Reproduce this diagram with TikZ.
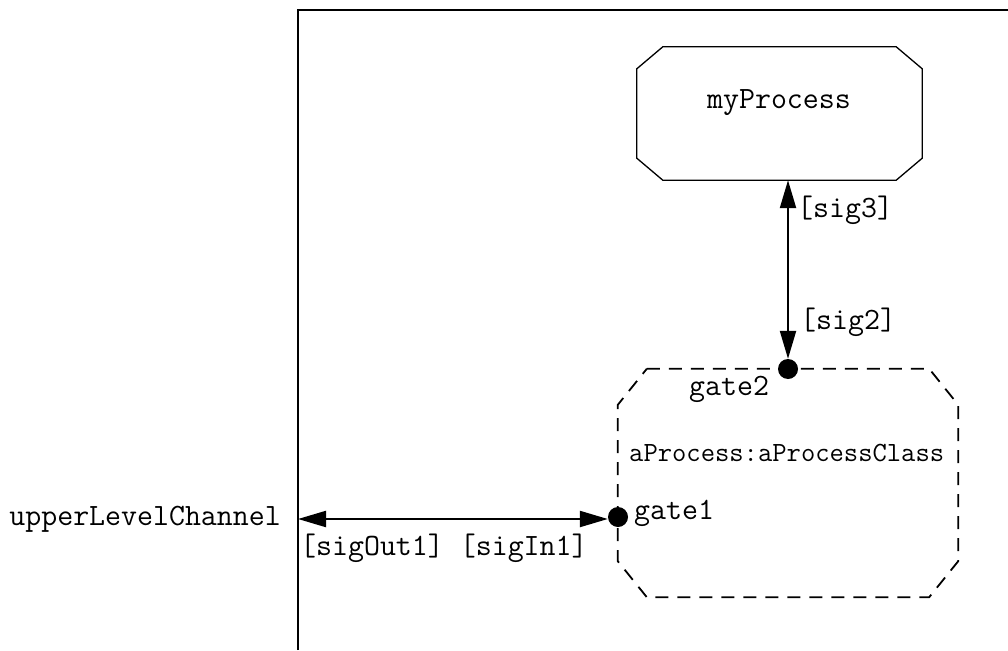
\documentclass[tikz,border=0pt]{standalone}
\usetikzlibrary{arrows.meta}
\tikzset{
  lbl/.style={inner sep=0pt, font=\ttfamily\fontsize{31}{35}\selectfont},
  smalllbl/.style={inner sep=0pt, font=\ttfamily\fontsize{27.8}{31}\selectfont},
  boxarea/.style={rectangle, draw=none, inner sep=0pt},
  procline/.style={line width=1.3pt, line join=miter},
  instline/.style={line width=1.8pt, dash pattern=on 13pt off 9pt},
  gatedot/.style={circle, fill=black, inner sep=0pt, minimum size=20pt},
  chan/.style={line width=2.2pt, {Triangle[length=28pt,width=16pt]}-{Triangle[length=28pt,width=16pt]}},
  frame/.style={line width=1.6pt}
}
\begin{document}
\begin{tikzpicture}[x=1pt,y=-1pt]
\useasboundingbox (0,0) rectangle (1008,650);
\draw[frame] (298,650) -- (298,10) -- (1008,10);
\coordinate (edge) at (298,519);
% myProcess
\node[boxarea, minimum width=285pt, minimum height=133pt] (mp) at (779.5,113.5) {};
\draw[procline] ([xshift=26pt]mp.north west) -- ([xshift=-26pt]mp.north east)
  -- ([yshift=-22pt]mp.north east) -- ([yshift=22pt]mp.south east)
  -- ([xshift=-26pt]mp.south east) -- ([xshift=26pt]mp.south west)
  -- ([yshift=22pt]mp.south west) -- ([yshift=-22pt]mp.north west) -- cycle;
\node[lbl] (mptxt) at (779,103) {myProcess};
% aProcess
\node[boxarea, minimum width=340pt, minimum height=228pt] (ap) at (788,483) {};
\draw[instline] ([xshift=29pt]ap.north west) -- ([xshift=-29pt]ap.north east)
  -- ([yshift=-36pt]ap.north east) -- ([yshift=36pt]ap.south east)
  -- ([xshift=-29pt]ap.south east) -- ([xshift=29pt]ap.south west)
  -- ([yshift=36pt]ap.south west) -- ([yshift=-36pt]ap.north west) -- cycle;
\node[smalllbl, anchor=west] (aptxt) at (629,453) {aProcess:aProcessClass};
\node[gatedot] (g2) at (788,369) {};
\node[gatedot] (g1) at (618,517) {};
\node[lbl, anchor=west] (g2txt) at (689,389) {gate2};
\node[lbl, anchor=west] (g1txt) at (634,513) {gate1};
\draw[chan] (g2 |- mp.south) -- (g2.north);
\draw[chan] (edge) -- (g1.west |- edge);
\node[lbl, anchor=west] (s3) at (797,210) {[sig3]};
\node[lbl, anchor=west] (s2) at (800,322) {[sig2]};
\node[lbl, anchor=east] (ulc) at (281,519) {upperLevelChannel};
\node[lbl, anchor=west] (sio) at (300,548) {[sigOut1] [sigIn1]};
\end{tikzpicture}
\end{document}
